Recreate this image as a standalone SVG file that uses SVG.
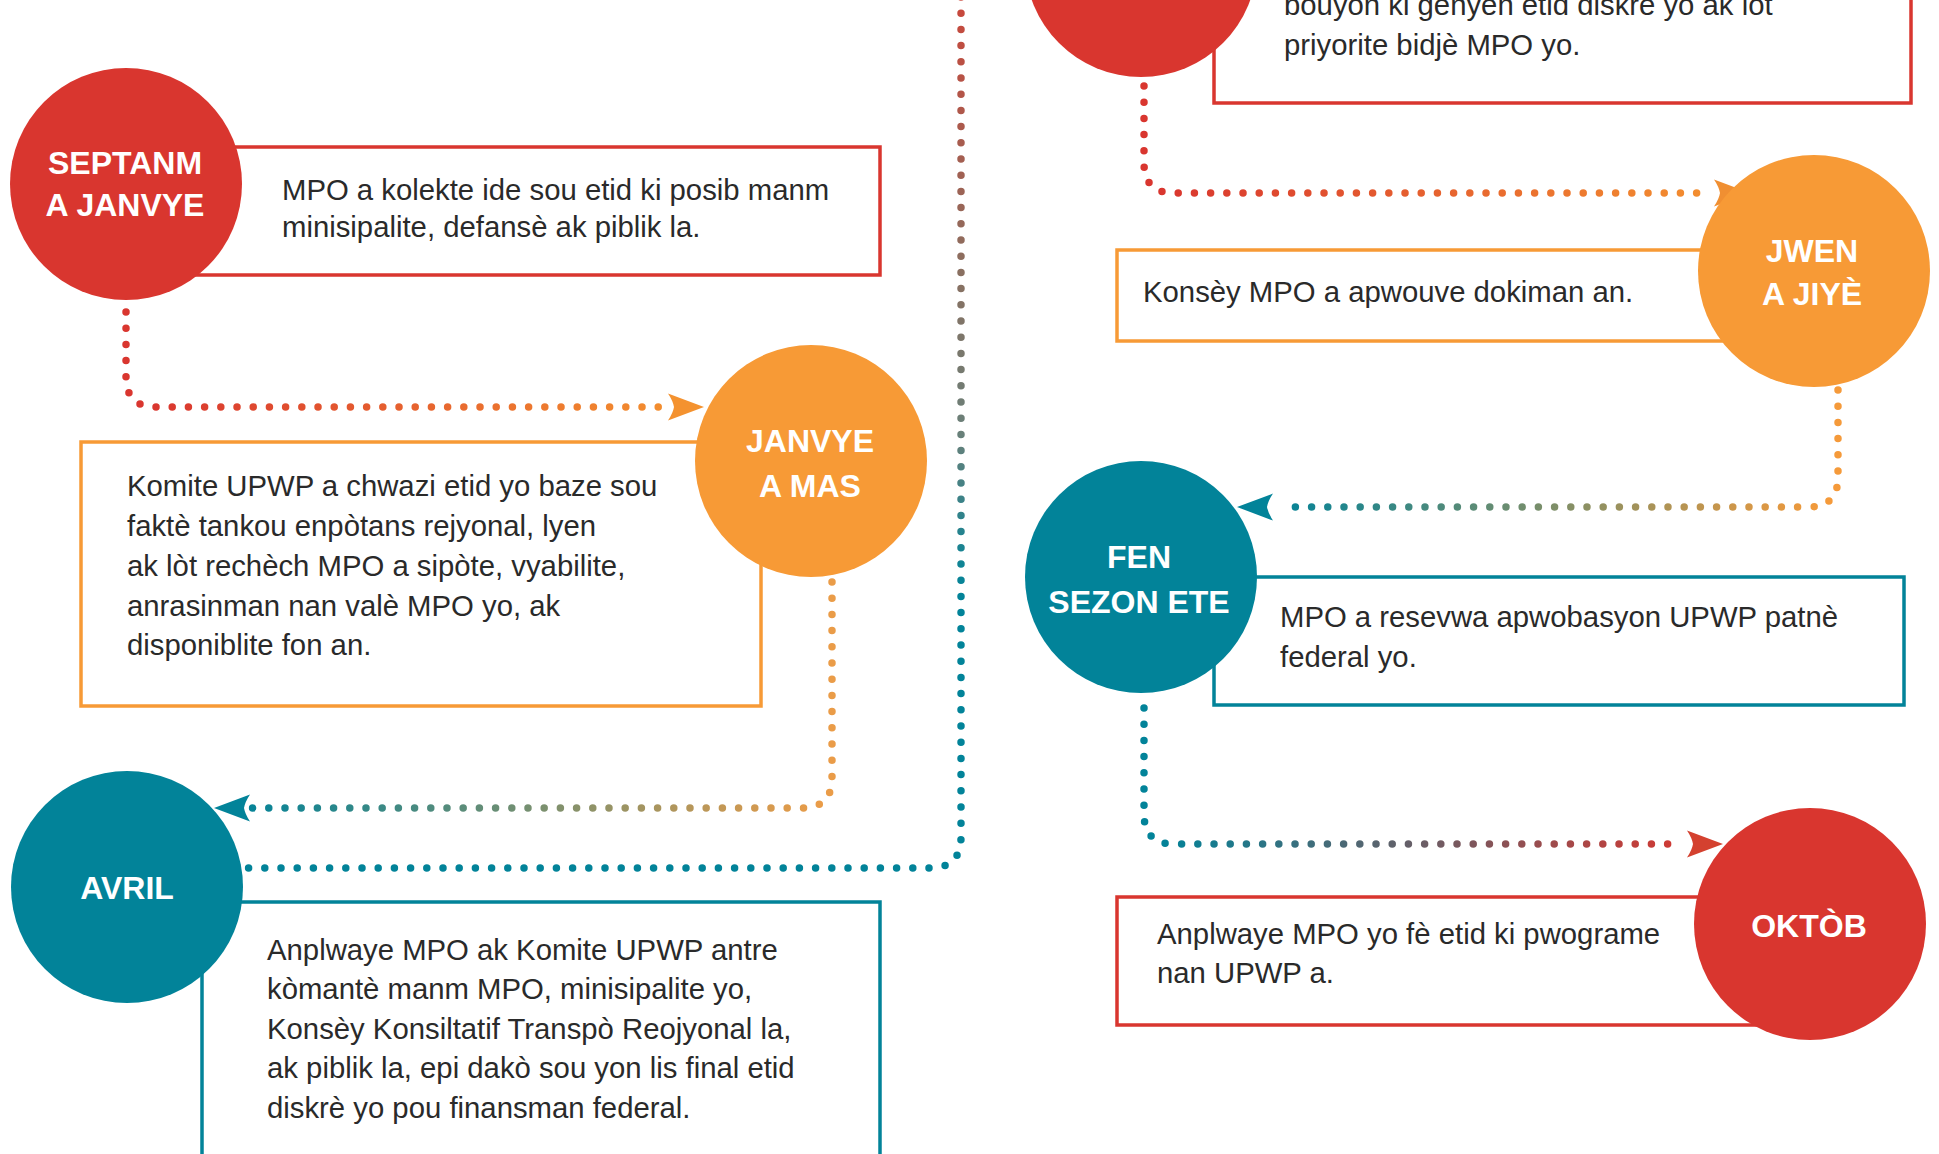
<svg xmlns="http://www.w3.org/2000/svg" xmlns:xlink="http://www.w3.org/1999/xlink" width="1939" height="1154" viewBox="0 0 1939 1154">
  <style>
    .box { fill: #ffffff; stroke-width: 3.5; }
    .red-s { stroke: #d9362f; }
    .org-s { stroke: #f79a36; }
    .teal-s { stroke: #028399; }
    .red-f { fill: #d9362f; }
    .org-f { fill: #f79a36; }
    .teal-f { fill: #028399; }
    .label { font-family: "Liberation Sans", Arial, sans-serif; font-weight: bold; font-size: 32px; fill: #ffffff; text-anchor: middle; }
    .body { font-family: "Liberation Sans", Arial, sans-serif; font-size: 29.3px; fill: #2a2a2a; }
    .dots { fill: none; stroke-width: 7.5; stroke-linecap: round; stroke-dasharray: 0 16.2; }
  </style>
  <defs>
    <path id="arrow" d="M0,0 L-36,-13.5 Q-31,-6 -30,0 Q-31,6 -36,13.5 Z"/>
    <linearGradient id="g1" gradientUnits="userSpaceOnUse" x1="150" y1="0" x2="690" y2="0">
      <stop offset="0" stop-color="#d9362f"/>
      <stop offset="1" stop-color="#f4922f"/>
    </linearGradient>
    <linearGradient id="g2" gradientUnits="userSpaceOnUse" x1="820" y1="0" x2="240" y2="0">
      <stop offset="0" stop-color="#ea9c48"/>
      <stop offset="1" stop-color="#028399"/>
    </linearGradient>
    <linearGradient id="g3" gradientUnits="userSpaceOnUse" x1="1160" y1="0" x2="1730" y2="0">
      <stop offset="0" stop-color="#d9362f"/>
      <stop offset="1" stop-color="#f4922f"/>
    </linearGradient>
    <linearGradient id="g4" gradientUnits="userSpaceOnUse" x1="1826" y1="0" x2="1270" y2="0">
      <stop offset="0" stop-color="#f59a3a"/>
      <stop offset="1" stop-color="#028399"/>
    </linearGradient>
    <linearGradient id="g5" gradientUnits="userSpaceOnUse" x1="1160" y1="0" x2="1700" y2="0">
      <stop offset="0" stop-color="#028399"/>
      <stop offset="1" stop-color="#d9362f"/>
    </linearGradient>
    <linearGradient id="g6" gradientUnits="userSpaceOnUse" x1="0" y1="0" x2="0" y2="600">
      <stop offset="0" stop-color="#c9473b"/>
      <stop offset="0.45" stop-color="#8a6f60"/>
      <stop offset="0.72" stop-color="#6a8079"/>
      <stop offset="0.95" stop-color="#0b8496"/>
      <stop offset="1" stop-color="#028399"/>
    </linearGradient>
  </defs>

  <g id="connectors">
    <path class="dots" stroke="url(#g6)" d="M961,-3 L961,837 Q961,868 930,868 L246,868"/>
    <path class="dots" stroke="url(#g1)" d="M126,312 L126,377 Q126,407 156,407 L664,407"/>
    <use href="#arrow" xlink:href="#arrow" transform="translate(704,407)" fill="#f4922f"/>
    <path class="dots" stroke="url(#g2)" d="M832,582 L832,778 Q832,808 802,808 L252,808"/>
    <use href="#arrow" xlink:href="#arrow" transform="translate(214,808) rotate(180)" fill="#028399"/>
    <path class="dots" stroke="url(#g3)" d="M1144,86 L1144,163 Q1144,193 1174,193 L1708,193"/>
    <use href="#arrow" xlink:href="#arrow" transform="translate(1750,193)" fill="#f08f32"/>
    <path class="dots" stroke="url(#g4)" d="M1838,390 L1838,477 Q1838,507 1808,507 L1280,507"/>
    <use href="#arrow" xlink:href="#arrow" transform="translate(1237,507) rotate(180)" fill="#028399"/>
    <path class="dots" stroke="url(#g5)" d="M1144,708 L1144,814 Q1144,844 1174,844 L1680,844"/>
    <use href="#arrow" xlink:href="#arrow" transform="translate(1723,844)" fill="#d4412f"/>
  </g>

  <g id="node-top">
    <rect class="box red-s" x="1214" y="-200" width="697" height="303"/>
    <circle class="red-f" cx="1141" cy="-39" r="116"/>
    <text class="body" x="1284" y="15">bouyon ki genyen etid diskrè yo ak lòt</text>
    <text class="body" x="1284" y="55">priyorite bidjè MPO yo.</text>
  </g>

  <g id="node-septanm">
    <rect class="box red-s" x="180" y="147" width="700" height="128"/>
    <circle class="red-f" cx="126" cy="184" r="116"/>
    <text class="label" x="125" y="174">SEPTANM</text>
    <text class="label" x="125" y="216">A JANVYE</text>
    <text class="body" x="282" y="200">MPO a kolekte ide sou etid ki posib manm</text>
    <text class="body" x="282" y="237">minisipalite, defansè ak piblik la.</text>
  </g>

  <g id="node-janvye">
    <rect class="box org-s" x="81" y="442" width="680" height="264"/>
    <circle class="org-f" cx="811" cy="461" r="116"/>
    <text class="label" x="810" y="452">JANVYE</text>
    <text class="label" x="810" y="497">A MAS</text>
    <text class="body" x="127" y="496">Komite UPWP a chwazi etid yo baze sou</text>
    <text class="body" x="127" y="536">faktè tankou enpòtans rejyonal, lyen</text>
    <text class="body" x="127" y="576">ak lòt rechèch MPO a sipòte, vyabilite,</text>
    <text class="body" x="127" y="616">anrasinman nan valè MPO yo, ak</text>
    <text class="body" x="127" y="655">disponiblite fon an.</text>
  </g>

  <g id="node-avril">
    <rect class="box teal-s" x="202" y="902" width="678" height="300"/>
    <circle class="teal-f" cx="127" cy="887" r="116"/>
    <text class="label" x="127" y="899">AVRIL</text>
    <text class="body" x="267" y="960">Anplwaye MPO ak Komite UPWP antre</text>
    <text class="body" x="267" y="999">kòmantè manm MPO, minisipalite yo,</text>
    <text class="body" x="267" y="1039">Konsèy Konsiltatif Transpò Reojyonal la,</text>
    <text class="body" x="267" y="1078">ak piblik la, epi dakò sou yon lis final etid</text>
    <text class="body" x="267" y="1118">diskrè yo pou finansman federal.</text>
  </g>

  <g id="node-jwen">
    <rect class="box org-s" x="1117" y="250" width="640" height="91"/>
    <circle class="org-f" cx="1814" cy="271" r="116"/>
    <text class="label" x="1812" y="262">JWEN</text>
    <text class="label" x="1812" y="305">A JIYÈ</text>
    <text class="body" x="1143" y="302">Konsèy MPO a apwouve dokiman an.</text>
  </g>

  <g id="node-fen">
    <rect class="box teal-s" x="1214" y="577" width="690" height="128"/>
    <circle class="teal-f" cx="1141" cy="577" r="116"/>
    <text class="label" x="1139" y="568">FEN</text>
    <text class="label" x="1139" y="613">SEZON ETE</text>
    <text class="body" x="1280" y="627">MPO a resevwa apwobasyon UPWP patnè</text>
    <text class="body" x="1280" y="667">federal yo.</text>
  </g>

  <g id="node-oktob">
    <rect class="box red-s" x="1117" y="897" width="670" height="128"/>
    <circle class="red-f" cx="1810" cy="924" r="116"/>
    <text class="label" x="1809" y="937">OKTÒB</text>
    <text class="body" x="1157" y="944">Anplwaye MPO yo fè etid ki pwograme</text>
    <text class="body" x="1157" y="983">nan UPWP a.</text>
  </g>
</svg>
